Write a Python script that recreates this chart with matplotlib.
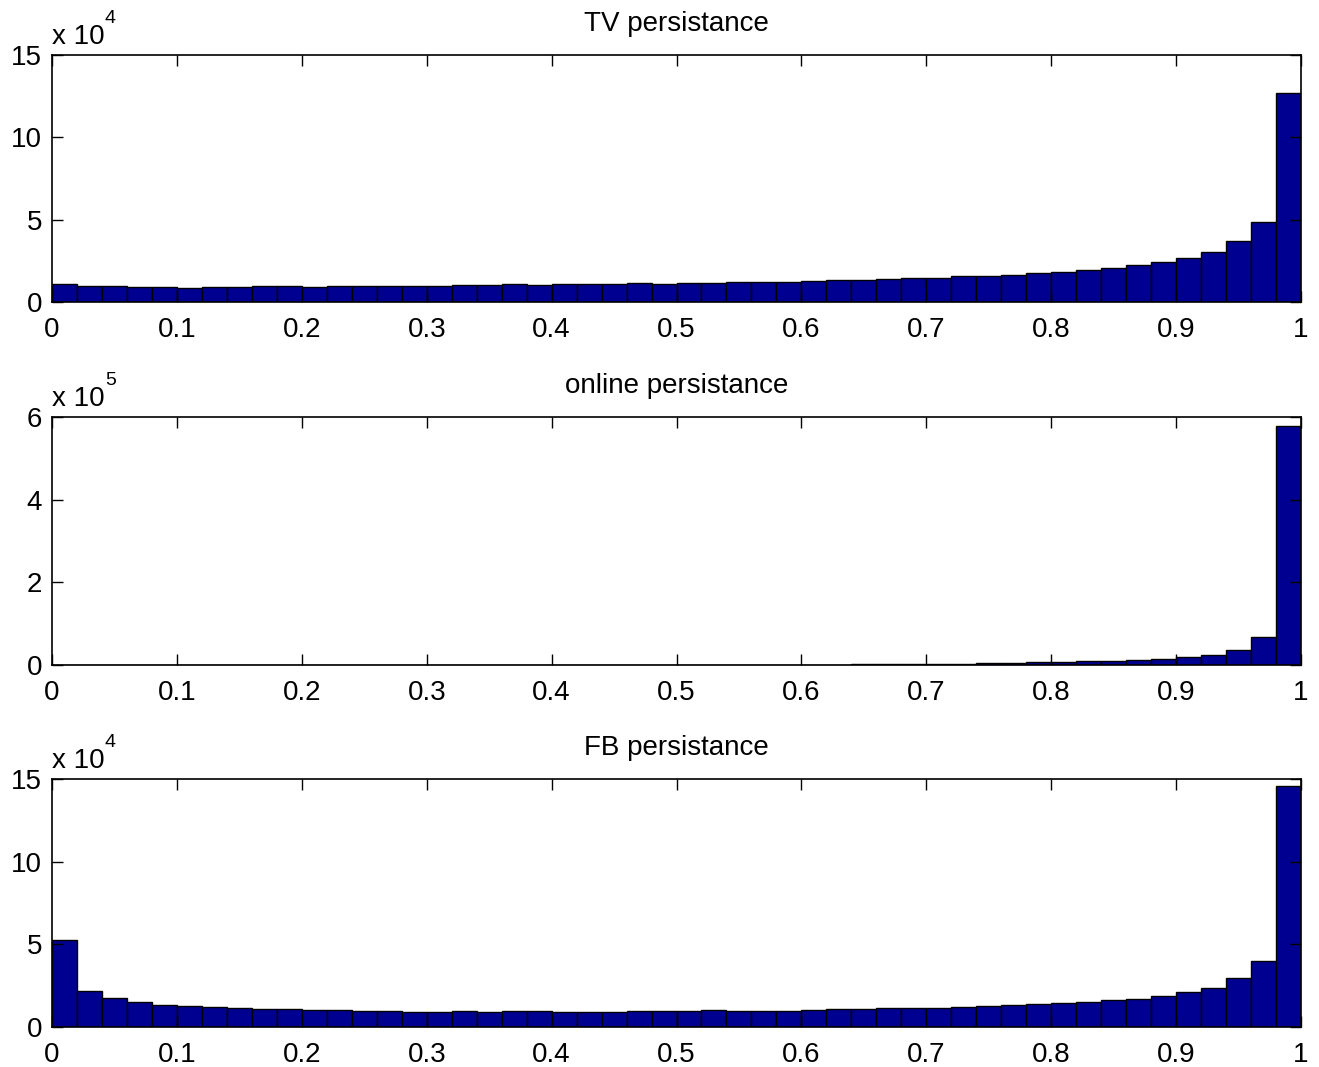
import numpy as np
import matplotlib.pyplot as plt

plt.rcParams['font.family'] = ['Liberation Sans', 'DejaVu Sans']

# histogram data: 50 bins of width 0.02 on [0, 1]
bin_edges = np.linspace(0, 1, 51)

tv_counts = np.array([
    1.10, 0.98, 0.98, 0.92, 0.92, 0.88, 0.92, 0.92, 0.96, 0.98,
    0.92, 0.98, 0.96, 0.98, 0.96, 1.00, 1.04, 1.02, 1.08, 1.06,
    1.10, 1.08, 1.10, 1.14, 1.12, 1.16, 1.16, 1.22, 1.20, 1.24,
    1.26, 1.32, 1.34, 1.38, 1.44, 1.48, 1.56, 1.60, 1.64, 1.76,
    1.84, 1.92, 2.08, 2.24, 2.40, 2.67, 3.03, 3.71, 4.83, 12.70]) * 1e4

online_counts = np.array([
    0.001, 0.001, 0.001, 0.001, 0.001, 0.001, 0.001, 0.001, 0.001, 0.001,
    0.001, 0.001, 0.001, 0.002, 0.002, 0.002, 0.002, 0.003, 0.003, 0.003,
    0.004, 0.004, 0.005, 0.005, 0.006, 0.006, 0.007, 0.007, 0.008, 0.009,
    0.010, 0.011, 0.013, 0.020, 0.024, 0.030, 0.032, 0.040, 0.048, 0.064,
    0.080, 0.089, 0.097, 0.113, 0.137, 0.185, 0.250, 0.360, 0.670, 5.780]) * 1e5

fb_counts = np.array([
    5.27, 2.15, 1.73, 1.49, 1.35, 1.29, 1.21, 1.15, 1.07, 1.07,
    1.03, 1.01, 0.99, 0.97, 0.93, 0.93, 0.95, 0.93, 0.95, 0.95,
    0.93, 0.93, 0.91, 0.95, 0.97, 0.95, 1.03, 0.95, 0.99, 0.99,
    1.03, 1.07, 1.09, 1.13, 1.17, 1.17, 1.23, 1.29, 1.33, 1.39,
    1.47, 1.51, 1.63, 1.71, 1.87, 2.11, 2.37, 2.94, 3.98, 14.55]) * 1e4

titles = ['TV persistance', 'online persistance', 'FB persistance']
series = [tv_counts, online_counts, fb_counts]
exponents = [4, 5, 4]
y_limits = [15, 6, 15]
y_ticks = [[0, 5, 10, 15], [0, 2, 4, 6], [0, 5, 10, 15]]
x_ticks = [0, 0.1, 0.2, 0.3, 0.4, 0.5, 0.6, 0.7, 0.8, 0.9, 1]
x_labels = ['0', '0.1', '0.2', '0.3', '0.4', '0.5', '0.6', '0.7', '0.8', '0.9', '1']

fig = plt.figure(figsize=(13.19, 10.67), dpi=100)
# axes boxes in pixels: (top, bottom)
boxes = [(55, 302), (417, 665), (779, 1027)]
W, H = 1319, 1067
left, right = 52, 1301

for (top, bottom), title, counts, ex, ylim, yt in zip(boxes, titles, series, exponents, y_limits, y_ticks):
    ax = fig.add_axes([left / W, 1 - bottom / H, (right - left) / W, (bottom - top) / H])
    ax.bar(bin_edges[:-1], counts / 10**ex, width=0.02, align='edge',
           color='#000090', edgecolor='black', linewidth=1.0)
    ax.set_xlim(0, 1)
    ax.set_ylim(0, ylim)
    ax.set_xticks(x_ticks)
    ax.set_xticklabels(x_labels)
    ax.set_yticks(yt)
    ax.tick_params(direction='in', length=8, width=1, labelsize=20,
                   top=True, right=True)
    ax.tick_params(axis='x', pad=11)
    ax.tick_params(axis='y', pad=7)
    for s in ax.spines.values():
        s.set_linewidth(1.2)
    ax.set_title(title, fontsize=20, pad=17)
    # MATLAB-style exponent label above the y axis
    ax.annotate('x 10', xy=(0, 1), xycoords='axes fraction',
                xytext=(0, 8), textcoords='offset points',
                fontsize=20, ha='left', va='baseline')
    ax.annotate(str(ex), xy=(0, 1), xycoords='axes fraction',
                xytext=(38, 23), textcoords='offset points',
                fontsize=14, ha='left', va='baseline')

fig.savefig('out.png', dpi=100)
